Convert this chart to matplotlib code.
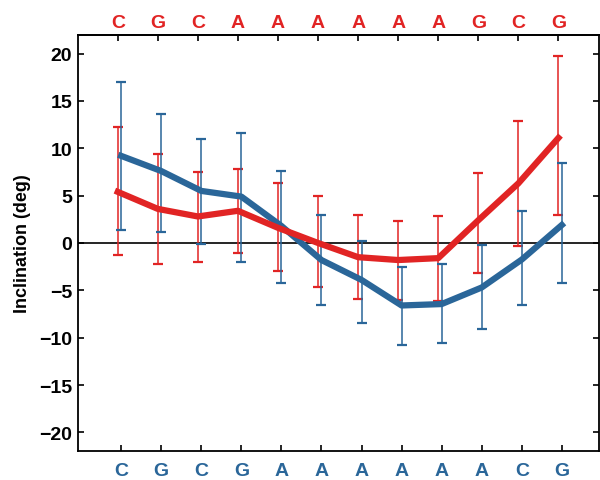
import matplotlib
matplotlib.use("Agg")
import matplotlib.pyplot as plt
import numpy as np

plt.rcParams['font.family'] = ['Liberation Sans', 'DejaVu Sans']
plt.rcParams['font.weight'] = 'bold'

# Data
top_letters = ['C', 'G', 'C', 'A', 'A', 'A', 'A', 'A', 'A', 'G', 'C', 'G']
bottom_letters = ['C', 'G', 'C', 'G', 'A', 'A', 'A', 'A', 'A', 'A', 'C', 'G']
yticks = [-20, -15, -10, -5, 0, 5, 10, 15, 20]

red_pos = [1, 2, 3, 4, 5, 6, 7, 8, 9, 10, 11, 12]
blue_pos = [1.085, 2.085, 3.085, 4.085, 5.085, 6.085, 7.085, 8.085, 9.085, 10.085, 11.085, 12.085]

red_mean = [5.4, 3.6, 2.8, 3.4, 1.6, 0.0, -1.5, -1.8, -1.6, 2.4, 6.3, 11.1]
red_upper = [12.3, 9.4, 7.5, 7.8, 6.3, 5.0, 3.0, 2.3, 2.9, 7.4, 12.9, 19.8]
red_lower = [-1.3, -2.2, -2.0, -1.1, -3.0, -4.6, -5.9, -6.0, -6.1, -3.2, -0.3, 3.0]

blue_mean = [9.2, 7.6, 5.5, 4.9, 1.8, -1.8, -3.9, -6.6, -6.45, -4.7, -1.75, 1.9]
blue_upper = [17.0, 13.6, 11.0, 11.6, 7.6, 3.0, 0.2, -2.5, -2.2, -0.25, 3.35, 8.5]
blue_lower = [1.4, 1.2, -0.1, -2.0, -4.2, -6.6, -8.5, -10.75, -10.6, -9.1, -6.5, -4.2]

RED = '#e12424'
BLUE = '#2a6699'

fig = plt.figure(figsize=(6.0, 4.81), dpi=100)
ax = fig.add_axes([0.1295, 0.0597, 0.868, 0.8661])

rm, ru, rl = map(np.array, (red_mean, red_upper, red_lower))
bm, bu, bl = map(np.array, (blue_mean, blue_upper, blue_lower))

ax.axhline(0, color='black', lw=1.2, zorder=1)

ax.errorbar(red_pos, rm, yerr=[rm - rl, ru - rm], fmt='none', ecolor=RED,
            elinewidth=1.1, capsize=3.5, capthick=1.6, zorder=2)
ax.errorbar(blue_pos, bm, yerr=[bm - bl, bu - bm], fmt='none', ecolor=BLUE,
            elinewidth=1.1, capsize=3.5, capthick=1.6, zorder=3)
ax.plot(blue_pos, bm, color=BLUE, lw=4.5, solid_joinstyle='round', zorder=4)
ax.plot(red_pos, rm, color=RED, lw=4.5, solid_joinstyle='round', zorder=5)

ax.set_xlim(0, 13)
ax.set_ylim(-22, 22)
ax.set_yticks(yticks)
ax.set_yticklabels([f'\u2212{abs(v)}' if v < 0 else str(v) for v in yticks])
ax.set_xticks(blue_pos)
ax.set_xticklabels(bottom_letters, color=BLUE, fontsize=14, fontweight='bold')
ax.tick_params(axis='x', direction='in', length=4, width=1.2, pad=8, bottom=True, top=False)
ax.tick_params(axis='y', direction='in', length=4, width=1.2, pad=4, left=True, right=True,
               labelsize=14)
for lab in ax.get_yticklabels():
    lab.set_fontweight('bold')

sec = ax.secondary_xaxis('top')
sec.set_xticks(red_pos)
sec.set_xticklabels(top_letters, color=RED, fontsize=14, fontweight='bold')
sec.tick_params(axis='x', direction='in', length=4, width=1.2, pad=3)
sec.spines['top'].set_linewidth(1.3)

for s in ax.spines.values():
    s.set_linewidth(1.3)

ax.set_ylabel('Inclination (deg)', fontsize=13, fontweight='bold', labelpad=6)

fig.savefig('out.png', dpi=100)
